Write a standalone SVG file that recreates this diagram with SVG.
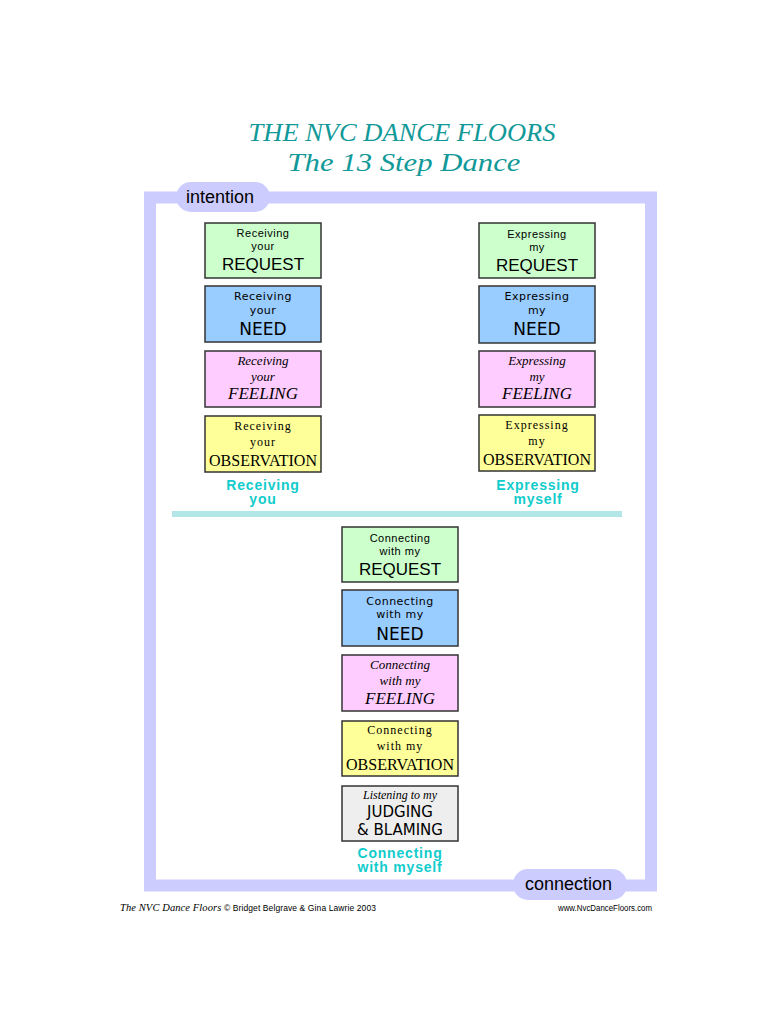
<svg xmlns="http://www.w3.org/2000/svg" width="768" height="1024" viewBox="0 0 768 1024">
<style>
.title{font-family:"Liberation Serif","DejaVu Serif",serif;font-style:italic;fill:#119999;font-size:25px;text-anchor:middle}
.box{stroke:#333;stroke-width:1.5}
.req{fill:#ccffcc}.need{fill:#99ccff}.feel{fill:#ffccff}.obs{fill:#ffff99}.judge{fill:#eeeeee}
.t{text-anchor:middle;fill:#000}
.sans{font-family:"Liberation Sans",Arial,sans-serif}
.small{font-size:11px;letter-spacing:0.5px}
.big{font-size:17px}
.comic{font-family:"DejaVu Sans","Liberation Sans",sans-serif}
.script{font-family:"Liberation Serif","DejaVu Serif",serif;font-style:italic}
.serif{font-family:"Liberation Serif","Times New Roman",serif}
.lab{font-family:"Liberation Sans",Arial,sans-serif;font-weight:bold;font-size:14px;fill:#11cccc;text-anchor:middle;letter-spacing:0.8px}
.pill{fill:#ccccff}
.pilltext{font-family:"Liberation Sans",Arial,sans-serif;font-size:18px;fill:#000}
.foot{font-family:"Liberation Sans",Arial,sans-serif;font-size:8.5px;fill:#000}
</style>
<rect width="768" height="1024" fill="#fff"/>
<g id="title">
<text class="title" x="402" y="141" textLength="307" lengthAdjust="spacingAndGlyphs">THE NVC DANCE FLOORS</text>
<text class="title" x="404" y="171" textLength="233" lengthAdjust="spacingAndGlyphs">The 13 Step Dance</text>
</g>
<g id="frame">
<rect x="150" y="197.5" width="501" height="688" fill="none" stroke="#ccccff" stroke-width="12"/>
<rect x="172" y="511" width="450" height="6" fill="#b3e6e6"/>
</g>
<g id="intention">
<rect class="pill" x="176" y="182" width="94" height="30" rx="15"/>
<text class="pilltext" x="186" y="203">intention</text>
</g>
<g id="connection">
<rect class="pill" x="513" y="869" width="114" height="31" rx="15"/>
<text class="pilltext" x="525" y="890">connection</text>
</g>
<g id="recv-request">
<rect class="box req" x="205" y="223" width="116" height="55"/>
<text class="t sans small" x="263" y="237">Receiving</text>
<text class="t sans small" x="263" y="250">your</text>
<text class="t sans big" x="263" y="270">REQUEST</text>
</g>
<g id="recv-need">
<rect class="box need" x="205" y="286" width="116" height="56"/>
<text class="t comic small" x="263" y="300">Receiving</text>
<text class="t comic small" x="263" y="314">your</text>
<text class="t comic big" x="263" y="335">NEED</text>
</g>
<g id="recv-feeling">
<rect class="box feel" x="205" y="351" width="116" height="56"/>
<text class="t script" font-size="13" x="263" y="365">Receiving</text>
<text class="t script" font-size="13" x="263" y="381">your</text>
<text class="t script" font-size="17" x="263" y="399">FEELING</text>
</g>
<g id="recv-observation">
<rect class="box obs" x="205" y="416" width="116" height="56"/>
<text class="t serif" font-size="12" letter-spacing="1" x="263" y="430">Receiving</text>
<text class="t serif" font-size="12" letter-spacing="1" x="263" y="446">your</text>
<text class="t serif" font-size="16" x="263" y="466" textLength="108" lengthAdjust="spacingAndGlyphs">OBSERVATION</text>
</g>
<g id="recv-label">
<text class="lab" x="263" y="490">Receiving</text>
<text class="lab" x="263" y="504">you</text>
</g>
<g id="expr-request">
<rect class="box req" x="479" y="223" width="116" height="55"/>
<text class="t sans small" x="537" y="238">Expressing</text>
<text class="t sans small" x="537" y="251">my</text>
<text class="t sans big" x="537" y="271">REQUEST</text>
</g>
<g id="expr-need">
<rect class="box need" x="479" y="286" width="116" height="57"/>
<text class="t comic small" x="537" y="300">Expressing</text>
<text class="t comic small" x="537" y="314">my</text>
<text class="t comic big" x="537" y="335">NEED</text>
</g>
<g id="expr-feeling">
<rect class="box feel" x="479" y="351" width="116" height="56"/>
<text class="t script" font-size="13" x="537" y="365">Expressing</text>
<text class="t script" font-size="13" x="537" y="381">my</text>
<text class="t script" font-size="17" x="537" y="399">FEELING</text>
</g>
<g id="expr-observation">
<rect class="box obs" x="479" y="415" width="116" height="56"/>
<text class="t serif" font-size="12" letter-spacing="1" x="537" y="429">Expressing</text>
<text class="t serif" font-size="12" letter-spacing="1" x="537" y="445">my</text>
<text class="t serif" font-size="16" x="537" y="465" textLength="108" lengthAdjust="spacingAndGlyphs">OBSERVATION</text>
</g>
<g id="expr-label">
<text class="lab" x="538" y="490">Expressing</text>
<text class="lab" x="538" y="504">myself</text>
</g>
<g id="conn-request">
<rect class="box req" x="342" y="527" width="116" height="55"/>
<text class="t sans small" x="400" y="542">Connecting</text>
<text class="t sans small" x="400" y="555">with my</text>
<text class="t sans big" x="400" y="575">REQUEST</text>
</g>
<g id="conn-need">
<rect class="box need" x="342" y="590" width="116" height="56"/>
<text class="t comic small" x="400" y="605">Connecting</text>
<text class="t comic small" x="400" y="618">with my</text>
<text class="t comic big" x="400" y="640">NEED</text>
</g>
<g id="conn-feeling">
<rect class="box feel" x="342" y="655" width="116" height="56"/>
<text class="t script" font-size="13" x="400" y="669">Connecting</text>
<text class="t script" font-size="13" x="400" y="685">with my</text>
<text class="t script" font-size="17" x="400" y="704">FEELING</text>
</g>
<g id="conn-observation">
<rect class="box obs" x="342" y="721" width="116" height="55"/>
<text class="t serif" font-size="12" letter-spacing="1" x="400" y="734">Connecting</text>
<text class="t serif" font-size="12" letter-spacing="1" x="400" y="750">with my</text>
<text class="t serif" font-size="16" x="400" y="770" textLength="108" lengthAdjust="spacingAndGlyphs">OBSERVATION</text>
</g>
<g id="judging">
<rect class="box judge" x="342" y="786" width="116" height="55"/>
<text class="t script" font-size="12" x="400" y="799">Listening to my</text>
<text class="t comic" font-size="15" x="400" y="817">JUDGING</text>
<text class="t comic" font-size="15" x="400" y="835">&amp; BLAMING</text>
</g>
<g id="conn-label">
<text class="lab" x="400" y="858">Connecting</text>
<text class="lab" x="400" y="872">with myself</text>
</g>
<g id="footer">
<text class="foot" x="120" y="911" textLength="256" lengthAdjust="spacing"><tspan font-family="Liberation Serif,serif" font-style="italic" font-size="10.5">The NVC Dance Floors</tspan> © Bridget Belgrave &amp; Gina Lawrie 2003</text>
<text class="foot" x="652" y="911" text-anchor="end" textLength="94" lengthAdjust="spacingAndGlyphs">www.NvcDanceFloors.com</text>
</g>
</svg>
